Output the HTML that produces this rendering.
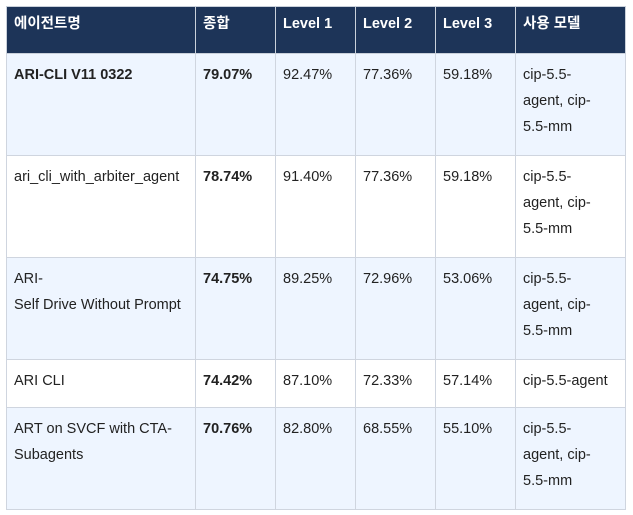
<!DOCTYPE html>
<html><head><meta charset="utf-8"><style>
html,body{margin:0;padding:0;background:#fff;width:633px;height:515px;overflow:hidden}
table{position:absolute;left:6px;top:6px;border-collapse:collapse;table-layout:fixed;font-family:"Liberation Sans","Noto Sans CJK KR",sans-serif;font-size:14.5px;color:#222}
td,th{border:1px solid #cfd5df;padding:8px 7px 0 7px;vertical-align:top;line-height:26px;text-align:left;box-sizing:border-box}
th{background:#1d3458;color:#fff;font-weight:bold;height:47px;padding-top:4px;border-color:#c9d0da}
tr.a td{background:#eef5ff}
tr.b td{background:#fff}
td b{font-weight:bold}
</style></head><body>
<table>
<colgroup><col style="width:189px"><col style="width:80px"><col style="width:80px"><col style="width:80px"><col style="width:80px"><col style="width:110px"></colgroup>
<tr><th>에이전트명</th><th>종합</th><th>Level 1</th><th>Level 2</th><th>Level 3</th><th>사용 모델</th></tr>
<tr class="a" style="height:102px"><td><b>ARI-CLI V11 0322</b></td><td><b>79.07%</b></td><td>92.47%</td><td>77.36%</td><td>59.18%</td><td>cip-5.5-<br>agent, cip-<br>5.5-mm</td></tr>
<tr class="b" style="height:102px"><td>ari_cli_with_arbiter_agent</td><td><b>78.74%</b></td><td>91.40%</td><td>77.36%</td><td>59.18%</td><td>cip-5.5-<br>agent, cip-<br>5.5-mm</td></tr>
<tr class="a" style="height:102px"><td>ARI-<br>Self Drive Without Prompt</td><td><b>74.75%</b></td><td>89.25%</td><td>72.96%</td><td>53.06%</td><td>cip-5.5-<br>agent, cip-<br>5.5-mm</td></tr>
<tr class="b" style="height:48px"><td>ARI CLI</td><td><b>74.42%</b></td><td>87.10%</td><td>72.33%</td><td>57.14%</td><td>cip-5.5-agent</td></tr>
<tr class="a" style="height:102px"><td>ART on SVCF with CTA-<br>Subagents</td><td><b>70.76%</b></td><td>82.80%</td><td>68.55%</td><td>55.10%</td><td>cip-5.5-<br>agent, cip-<br>5.5-mm</td></tr>
</table>
</body></html>
